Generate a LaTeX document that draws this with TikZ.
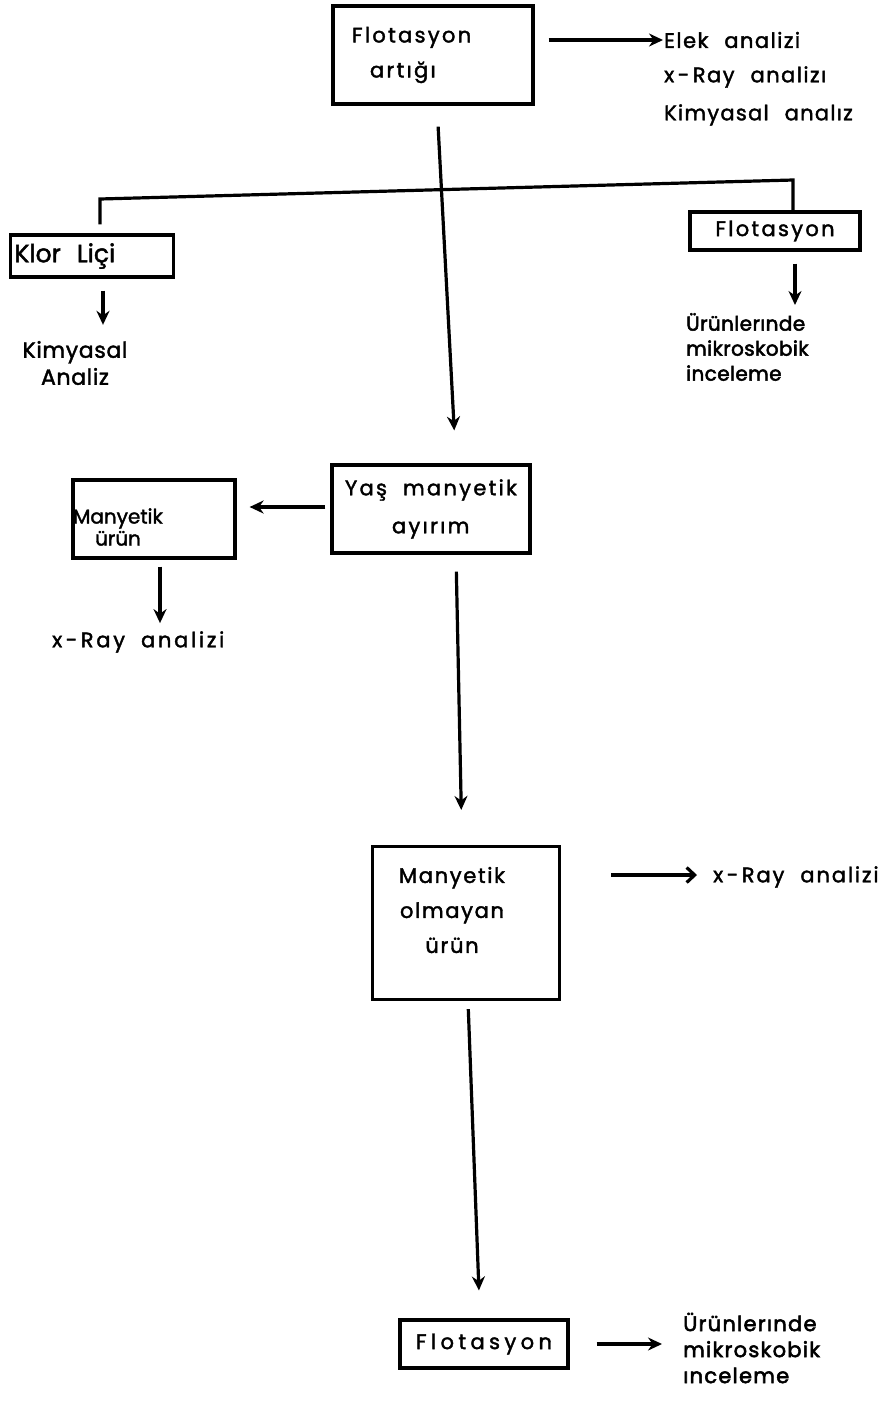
\documentclass[tikz,border=0pt]{standalone}
\usepackage{fontspec}
\setmainfont{Poppins}[FakeBold=1.8]
\newcommand{\ls}[1]{\addfontfeatures{LetterSpace=#1}}
\newcommand{\wgap}{\hspace{16pt}}
\usetikzlibrary{arrows.meta}

\tikzset{
    box/.style={rectangle, draw, line width=3.2pt, inner sep=2pt, align=center,
        font=\fontsize{21}{24}\selectfont},
    txt/.style={inner sep=0pt, align=center, font=\fontsize{21}{24}\selectfont},
    lbl/.style={inner sep=0pt, anchor=west, align=left, font=\fontsize{21}{24}\selectfont},
    line/.style={line width=3.2pt},
    arr/.style={line width=3.2pt, -{Stealth[length=14pt,width=13pt]}},
    barb/.style={line width=3.2pt, -{Straight Barb[length=8pt,width=15pt]}}
}

\begin{document}
\begin{tikzpicture}[x=1pt, y=-1pt]
            \useasboundingbox (0,0) rectangle (892,1401);

            % Starting material and its analyses
            \node[box, minimum width=200pt, minimum height=98pt, text width=170pt, align=left,
                font=\fontsize{21}{35}\selectfont\ls{11}] (flotart) at (433,55) {\hspace{4pt}Flotasyon\\\hspace{22pt}artığı};
            \node[lbl, font=\fontsize{21}{24}\selectfont\ls{7}] (elek) at (664,40) {Elek\wgap analizi};
            \node[lbl, font=\fontsize{21}{24}\selectfont\ls{7}] (xray1) at (664,77) {x\,-\,Ray\wgap analizı};
            \node[lbl, font=\fontsize{21}{24}\selectfont\ls{6}] (kimy1) at (664,115) {Kimyasal\wgap analız};
            \draw[arr, shorten <=14pt, shorten >=1pt] (elek.west -| flotart.east) -- (elek.west);

            % Side branches
            \node[box, minimum width=163pt, minimum height=42pt, text width=155pt, align=left,
                font=\fontsize{25}{26}\selectfont] (klor) at (92,256) {Klor\wgap Liçi};
            \node[box, minimum width=170pt, minimum height=38pt, font=\fontsize{21}{24}\selectfont\ls{11}] (flot2) at (775,231) {Flotasyon};
            \coordinate (kcorner) at (100,199);
            \coordinate (fcorner) at (793,180);
            \draw[line, shorten <=9pt] ([xshift=8pt]klor.north) -- (kcorner) -- (fcorner) -- ([xshift=18pt]flot2.north);
            \node[txt, font=\fontsize{22}{27}\selectfont\ls{3}] (kimya) at (75,363) {Kimyasal\\Analiz};
            \node[lbl, font=\fontsize{20}{25}\selectfont\addfontfeatures{FakeBold=2.6}\ls{2}] (urun1) at (686,347) {Ürünlerınde\\mikroskobik\\inceleme};
            \draw[arr, shorten <=12pt, shorten >=16pt] ([xshift=11pt]klor.south) -- ([xshift=11pt]klor.south |- kimya.north);
            \draw[arr, shorten <=12pt, shorten >=8pt] ([xshift=20pt]flot2.south) -- ([xshift=20pt]flot2.south |- urun1.north);

            % Wet magnetic separation
            \node[box, minimum width=198pt, minimum height=88pt, text width=176pt, align=left,
                font=\fontsize{21}{38}\selectfont\ls{11}] (yas) at (431,509) {\hspace{2pt}Yaş\wgap manyetik\\\hspace{49pt}ayırım};
            \node[box, minimum width=162pt, minimum height=78pt] (mur) at (154,519) {};
            \node[txt, font=\fontsize{20}{22}\selectfont] (murtxt) at (118,527) {Manyetik\\ürün};
            \node[lbl, font=\fontsize{21}{24}\selectfont\ls{13}] (xray2) at (52,642) {x\,-\,Ray\wgap analizi};
            \draw[arr, shorten <=21pt, shorten >=33pt] ([xshift=25pt]flotart.south) ++(-21pt,0) -- ([xshift=25pt]yas.north);
            \draw[arr, shorten <=5pt, shorten >=13pt] ([yshift=2pt]yas.west) -- ([yshift=2pt]yas.west -| mur.east);
            \draw[arr, shorten <=7pt, shorten >=8pt] ([xshift=6pt]mur.south) -- ([xshift=6pt]mur.south |- xray2.north);

            % Non-magnetic product
            \node[box, minimum width=187pt, minimum height=153pt] (mo) at (466,923) {};
            \node[txt, font=\fontsize{21}{35}\selectfont\ls{8}] (motxt) at (452,910) {Manyetik\\olmayan\\ürün};
            \node[lbl, font=\fontsize{21}{24}\selectfont\ls{9}] (xray3) at (713,877) {x\,-\,Ray\wgap analizi};
            \draw[arr, shorten <=17pt, shorten >=35pt] ([xshift=25pt]yas.south) -- ([xshift=-4pt]mo.north);
            \draw[barb, shorten <=50pt, shorten >=16pt] ([yshift=2pt]xray3.west -| mo.east) -- ([yshift=2pt]xray3.west);

            % Final flotation
            \node[box, minimum width=168pt, minimum height=48pt, font=\fontsize{21}{24}\selectfont\ls{21}] (flot3) at (484,1344) {Flotasyon};
            \node[lbl, font=\fontsize{21}{26}\selectfont\addfontfeatures{FakeBold=2.6}\ls{6}] (urun2) at (683,1348) {Ürünlerınde\\mikroskobik\\ınceleme};
            \draw[arr, shorten <=8pt, shorten >=28pt] ([xshift=2pt]mo.south) -- ([xshift=-4pt]flot3.north);
            \draw[arr, shorten <=27pt, shorten >=21pt] (flot3.east) -- (flot3.east -| urun2.west);
        \end{tikzpicture}
\end{document}
